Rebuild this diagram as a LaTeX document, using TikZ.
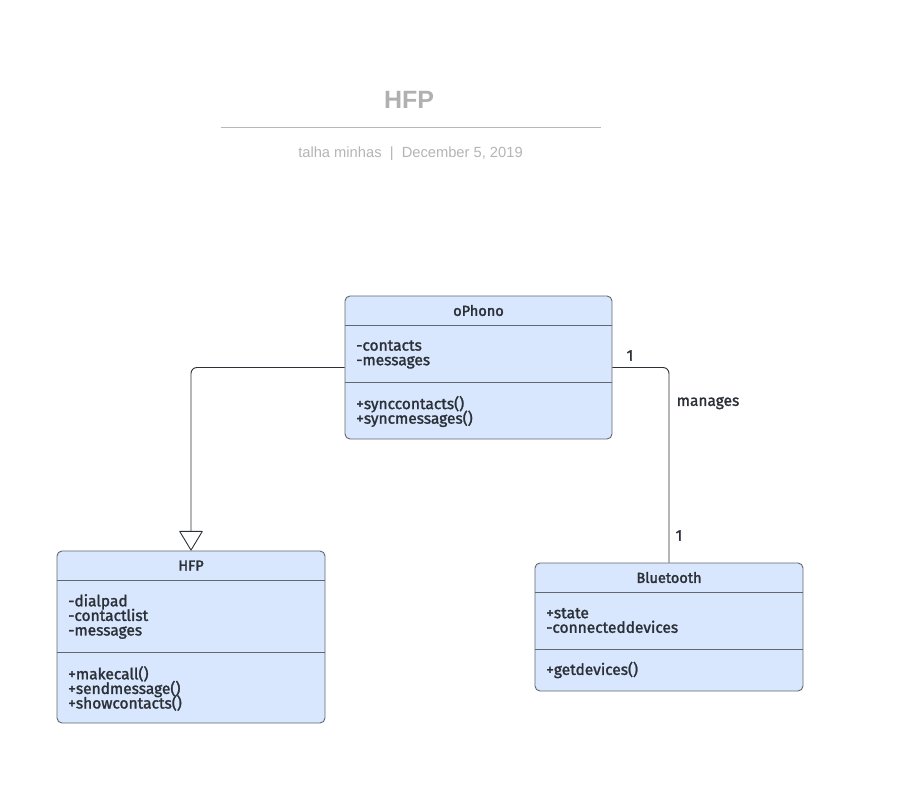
\documentclass[tikz,border=0pt]{standalone}
\usepackage{fontspec}
\setmainfont{Liberation Sans}
\newfontfamily\umlfont[FakeBold=1.6]{Fira Sans}
\newfontfamily\umlbold[FakeBold=2.2]{Fira Sans}
\usetikzlibrary{arrows.meta}
\newcommand{\tightlines}{\lineskiplimit=-20pt\relax\lineskip=0pt\relax}
\definecolor{clsfill}{HTML}{D8E7FE}
\definecolor{clsborder}{HTML}{62676D}
\definecolor{txtdark}{HTML}{2B2F36}
\definecolor{titlegray}{HTML}{B0B0B0}
\definecolor{subgray}{HTML}{B4B4B4}
\definecolor{rulegray}{HTML}{B8B8B8}
\begin{document}
\begin{tikzpicture}[x=1pt,y=-1pt,
  cls/.style={draw=clsborder, fill=clsfill, rounded corners=5pt, line width=0.9pt, inner sep=0pt},
  divider/.style={draw=clsborder, line width=0.9pt},
  cname/.style={font=\umlbold\fontsize{14.5}{15}\selectfont, text=txtdark},
  member/.style={font=\umlfont\fontsize{15.5}{14.6}\selectfont\tightlines, text=txtdark, align=left, anchor=west, inner sep=0pt},
  conn/.style={draw=txtdark, line width=0.9pt, rounded corners=6pt},
  lbl/.style={font=\umlfont\fontsize{15.5}{15}\selectfont, text=txtdark, inner sep=0pt}
]
\useasboundingbox (0,0) rectangle (903,803);

% title
\node[font=\bfseries\fontsize{25}{28}\selectfont, text=titlegray] (title) at (409,100) {HFP};
\coordinate (rl) at (221,127);
\coordinate (rr) at (601,127);
\draw[rulegray, line width=0.9pt] (rl) -- (rr);
\node[font=\fontsize{14.7}{16}\selectfont, text=subgray] (sub) at (410.5,154) {talha minhas \ \textbar\ \ December 5, 2019};

% oPhono
\node[cls, minimum width=267pt, minimum height=143pt] (oph) at (478.5,367.5) {};
\draw[divider] (oph.west |- 0,325) -- (oph.east |- 0,325);
\draw[divider] (oph.west |- 0,382) -- (oph.east |- 0,382);
\node[cname] (ophN) at (478.5,310.5) {oPhono};
\node[member] (ophA) at (356,354.5) {-contacts\\-messages};
\node[member] (ophM) at (356,411.5) {+synccontacts()\\+syncmessages()};

% HFP
\node[cls, minimum width=268pt, minimum height=172pt] (hfp) at (191,637) {};
\draw[divider] (hfp.west |- 0,580) -- (hfp.east |- 0,580);
\draw[divider] (hfp.west |- 0,652) -- (hfp.east |- 0,652);
\node[cname] (hfpN) at (191,565.5) {HFP};
\node[member] (hfpA) at (68,616.5) {-dialpad\\-contactlist\\-messages};
\node[member] (hfpM) at (68,688.5) {+makecall()\\+sendmessage()\\+showcontacts()};

% Bluetooth
\node[cls, minimum width=268pt, minimum height=128pt] (bt) at (669,627) {};
\draw[divider] (bt.west |- 0,592) -- (bt.east |- 0,592);
\draw[divider] (bt.west |- 0,649) -- (bt.east |- 0,649);
\node[cname] (btN) at (669,577.5) {Bluetooth};
\node[member] (btA) at (546,620.5) {+state\\-connecteddevices};
\node[member] (btM) at (546,670) {+getdevices()};

% generalization
\draw[conn, -{Triangle[open, length=20pt, width=24pt, round=false]}] (oph.west) -| (hfp.north);
% association
\draw[conn] (oph.east) -| (bt.north);
\node[lbl] (m1) at (630,355.5) {1};
\node[lbl] (m2) at (679,535.5) {1};
\node[lbl] (as) at (708,403) {manages};
\end{tikzpicture}
\end{document}
